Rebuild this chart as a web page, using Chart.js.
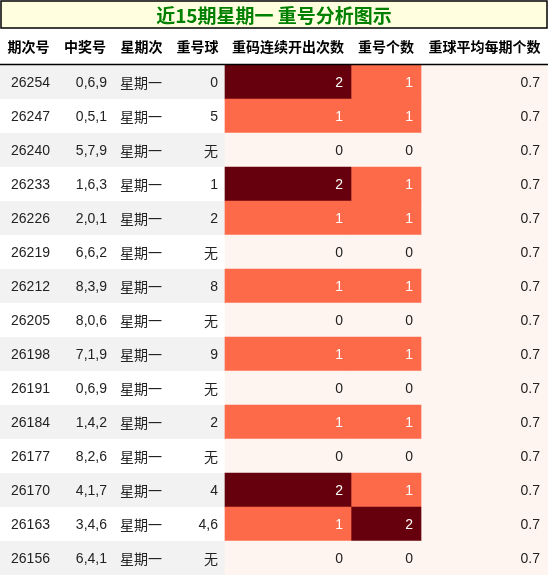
<!DOCTYPE html><html><head><meta charset="utf-8">
<script src="https://cdn.jsdelivr.net/npm/chart.js@4"></script>
<style>body{margin:0;background:#fff}#w{width:548px;height:576px}</style></head><body><div id="w"><canvas id="c"></canvas></div>
<script>
const titleText = "近15期星期一 重号分析图示";
const headers = ["期次号","中奖号","星期次","重号球","重码连续开出次数","重号个数","重球平均每期个数"];
const periods = ["26254","26247","26240","26233","26226","26219","26212","26205","26198","26191","26184","26177","26170","26163","26156"];
const winNums = ["0,6,9","0,5,1","5,7,9","1,6,3","2,0,1","6,6,2","8,3,9","8,0,6","7,1,9","0,6,9","1,4,2","8,2,6","4,1,7","3,4,6","6,4,1"];
const weekday = periods.map(()=> "星期一");
const repeatBalls = ["0","5","无","1","2","无","8","无","9","无","2","无","4","4,6","无"];
const consecutive = [2,1,0,2,1,0,1,0,1,0,1,0,2,1,0];
const repeatCount = [1,1,0,1,1,0,1,0,1,0,1,0,1,2,0];
const avgPerPeriod = periods.map(()=>0.7);

// layout (not data)
const edges = [0,57,113,170,225,351,421,548];
const heatColor = v => v>=2 ? "#67000d" : v>=1 ? "#fc6a4a" : "#fff5f0";
const FONT = "'Liberation Sans','DejaVu Sans','Noto Sans CJK SC',sans-serif";

const tablePlugin = {
  id:'table',
  beforeDatasetsDraw(chart){
    const {ctx, scales:{y}} = chart;
    ctx.save();
    periods.forEach((p,i)=>{
      const yc = y.getPixelForValue(i), h=34;
      if(i%2===0){ctx.fillStyle="#f2f2f2";ctx.fillRect(0,yc-h/2,edges[4],h);}
    });
    ctx.restore();
  },
  afterDatasetsDraw(chart){
    const {ctx, scales:{x,y}} = chart;
    ctx.save();
    // title
    ctx.fillStyle="#ffffe0"; ctx.fillRect(1,1,546,27);
    ctx.strokeStyle="#000"; ctx.lineWidth=1.5; ctx.strokeRect(1,1,546,27);
    ctx.fillStyle="#008000"; ctx.font="bold 19px 'Noto Sans CJK SC',sans-serif";
    ctx.textAlign="center"; ctx.textBaseline="middle";
    ctx.fillText(titleText, 274, 16);
    // header
    ctx.fillStyle="#000"; ctx.font="bold 14px 'Noto Sans CJK SC',sans-serif";
    headers.forEach((hd,j)=>{
      const xc=(x.getPixelForValue(edges[j])+x.getPixelForValue(edges[j+1]))/2;
      ctx.fillText(hd, xc, 47);
    });
    ctx.beginPath(); ctx.moveTo(0,64.5); ctx.lineTo(548,64.5); ctx.lineWidth=1.5; ctx.stroke();
    // cells
    ctx.font="14px "+FONT;
    periods.forEach((p,i)=>{
      const yc=y.getPixelForValue(i)+1;
      const R=j=>x.getPixelForValue(edges[j+1])-8;
      ctx.fillStyle="#222";
      ctx.textAlign="center"; ctx.fillText(p,(edges[0]+edges[1])/2+2,yc);
      ctx.textAlign="right"; ctx.fillText(winNums[i],R(1)+2,yc);
      ctx.textAlign="left"; ctx.font="14px 'Noto Sans CJK SC',sans-serif"; ctx.fillText(weekday[i],edges[2]+7,yc);
      ctx.textAlign="right"; ctx.font="14px "+FONT;
      ctx.font=(repeatBalls[i]==="无"?"14px 'Noto Sans CJK SC',sans-serif":"14px "+FONT);
      ctx.fillText(repeatBalls[i],R(3)+1,yc);
      ctx.font="14px "+FONT;
      ctx.fillStyle=consecutive[i]>=1?"#fff":"#222"; ctx.fillText(String(consecutive[i]),R(4),yc);
      ctx.fillStyle=repeatCount[i]>=1?"#fff":"#222"; ctx.fillText(String(repeatCount[i]),R(5),yc);
      ctx.fillStyle="#222"; ctx.fillText(avgPerPeriod[i].toFixed(1),R(6),yc);
    });
    ctx.restore();
  }
};

new Chart(document.getElementById('c'),{
  type:'bar',
  data:{labels:periods,datasets:[
    {data:consecutive.map(()=>[edges[4],edges[5]]),backgroundColor:consecutive.map(heatColor),barPercentage:1,categoryPercentage:1,grouped:false},
    {data:repeatCount.map(()=>[edges[5],edges[6]]),backgroundColor:repeatCount.map(heatColor),barPercentage:1,categoryPercentage:1,grouped:false},
    {data:avgPerPeriod.map(()=>[edges[6],edges[7]]),backgroundColor:avgPerPeriod.map(()=>"#fff5f0"),barPercentage:1,categoryPercentage:1,grouped:false}
  ]},
  options:{indexAxis:'y',responsive:true,maintainAspectRatio:false,animation:false,
    layout:{padding:{top:65,bottom:1,left:0,right:0}},
    plugins:{legend:{display:false},tooltip:{enabled:false}},
    scales:{x:{type:'linear',min:0,max:548,display:false},y:{display:false,offset:true}}},
  plugins:[tablePlugin]
});
</script></body></html>
